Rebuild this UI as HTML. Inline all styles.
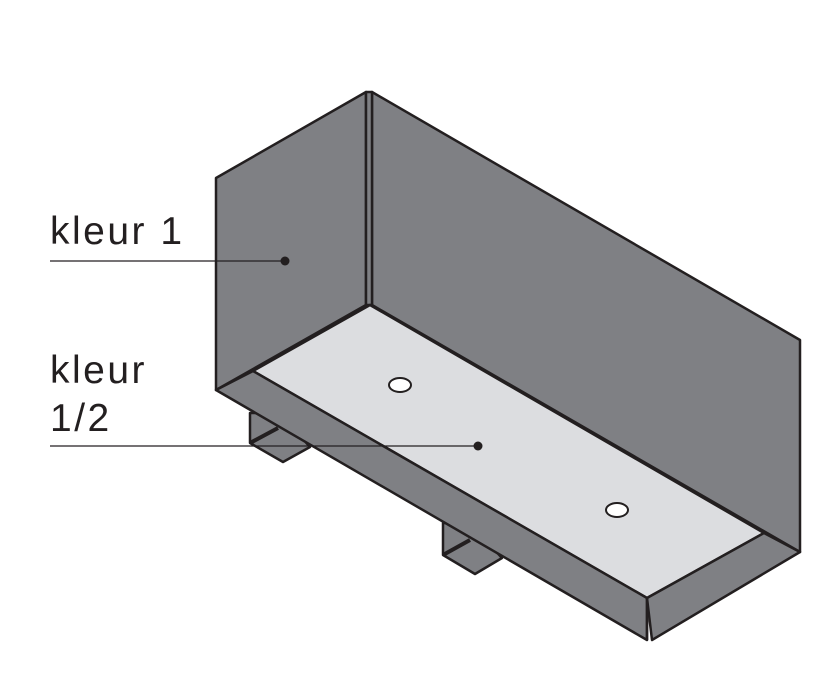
<!DOCTYPE html>
<html><head><style>body{margin:0;background:#fff}svg{display:block}</style></head><body>
<svg width="838" height="673" viewBox="0 0 838 673" xmlns="http://www.w3.org/2000/svg">
<g stroke="#231f20" stroke-width="2.5" stroke-linejoin="round" fill="#7f8084">
<polygon points="250,413 280,413 310,447 283,462 250,443"/>
<line x1="250" y1="443" x2="278" y2="428" stroke-width="4"/>
<polygon points="443,523 470,523 502,558 475,574 443,555"/>
<line x1="443" y1="555" x2="470" y2="540" stroke-width="4"/>
<polygon points="216,178 366,92 366,305 216,390"/>
<polygon points="372,92 800,340 800,552 372,305"/>
<polygon points="366,92 372,92 372,305 366,305"/>
<polygon points="370,305 764,533 647,598 253,371" fill="#dcdde0"/>
<polygon points="216,390 253,371 647,598 647,640"/>
<polygon points="647,598 764,533 800,552 652,640"/>
<line x1="647" y1="598" x2="647" y2="640"/>
</g>
<g stroke="#231f20" stroke-width="2" fill="#fff">
<ellipse cx="400" cy="385" rx="11" ry="7"/>
<ellipse cx="617" cy="510" rx="11" ry="7"/>
</g>
<g stroke="#231f20" stroke-width="1.3">
<line x1="50" y1="261" x2="285" y2="261"/>
<line x1="50" y1="446" x2="478" y2="446"/>
</g>
<circle cx="285" cy="261" r="4.5" fill="#231f20"/>
<circle cx="478" cy="446" r="4.5" fill="#231f20"/>
<g font-family="Liberation Sans, sans-serif" font-size="39" fill="#231f20" letter-spacing="2.5">
<text x="50" y="244">kleur 1</text>
<text x="50" y="383">kleur</text>
<text x="50" y="431">1/2</text>
</g>
</svg>
</body></html>
